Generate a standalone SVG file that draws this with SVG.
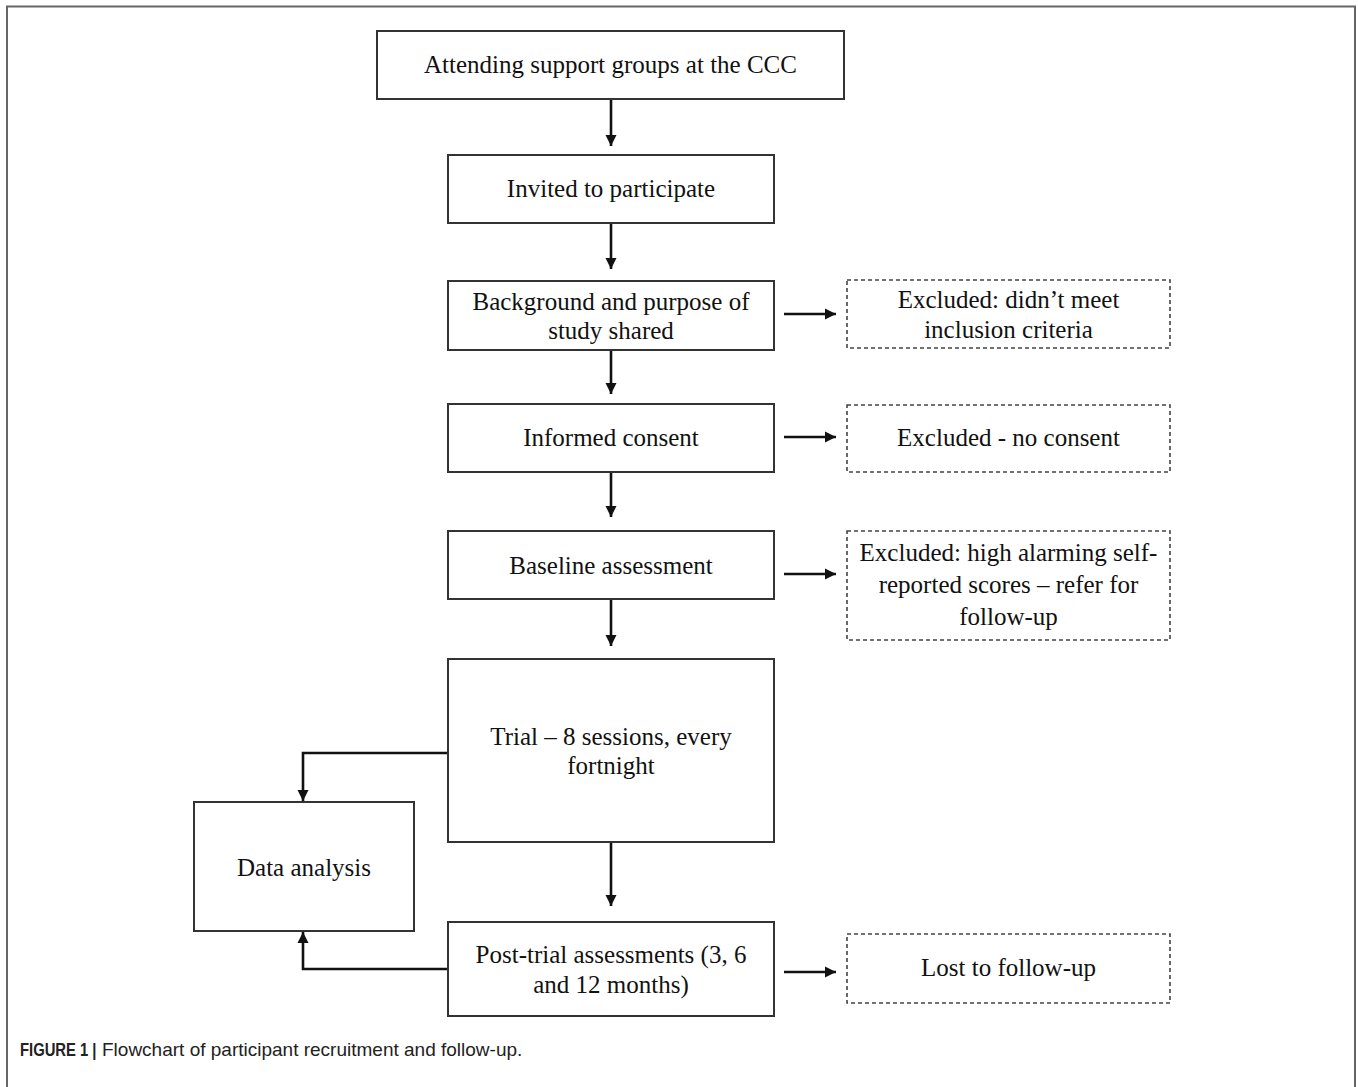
<svg xmlns="http://www.w3.org/2000/svg" width="1358" height="1087" viewBox="0 0 1358 1087">
<defs>
<style>
.box{fill:#fff;stroke:#333;stroke-width:2}
.dash{fill:#fff;stroke:#444;stroke-width:1.6;stroke-dasharray:4 3}
.t{font-family:"Liberation Serif","Times New Roman",serif;font-size:25px;fill:#111;text-anchor:middle}
.c{stroke:#111;stroke-width:2.6;fill:none}
.cap{font-family:"Liberation Sans",Arial,sans-serif;font-size:19px;fill:#222}
</style>
<marker id="ah" viewBox="0 0 10 10" refX="10" refY="5" markerWidth="4.4" markerHeight="4.4" orient="auto" markerUnits="strokeWidth">
<path d="M0,0 L10,5 L0,10 z" fill="#111"/>
</marker>
</defs>
<rect width="1358" height="1087" fill="#fff"/>
<path d="M7,1087 V6.5 H1355 V1087" fill="none" stroke="#666" stroke-width="2"/>

<g id="connectors">
<line class="c" x1="611" y1="100" x2="611" y2="146" marker-end="url(#ah)"/>
<line class="c" x1="611" y1="224" x2="611" y2="269" marker-end="url(#ah)"/>
<line class="c" x1="611" y1="351" x2="611" y2="394" marker-end="url(#ah)"/>
<line class="c" x1="611" y1="473" x2="611" y2="517" marker-end="url(#ah)"/>
<line class="c" x1="611" y1="600" x2="611" y2="646" marker-end="url(#ah)"/>
<line class="c" x1="611" y1="843" x2="611" y2="906" marker-end="url(#ah)"/>
<line class="c" x1="784" y1="314" x2="836" y2="314" marker-end="url(#ah)"/>
<line class="c" x1="784" y1="437" x2="836" y2="437" marker-end="url(#ah)"/>
<line class="c" x1="784" y1="574" x2="836" y2="574" marker-end="url(#ah)"/>
<line class="c" x1="784" y1="972" x2="836" y2="972" marker-end="url(#ah)"/>
<polyline class="c" points="448,753 303,753 303,801" marker-end="url(#ah)"/>
<polyline class="c" points="448,969 303,969 303,932" marker-end="url(#ah)"/>
</g>

<g id="n1"><rect class="box" x="377" y="31" width="467" height="68"/><text class="t" x="610.5" y="73">Attending support groups at the CCC</text></g>
<g id="n2"><rect class="box" x="448" y="155" width="326" height="68"/><text class="t" x="611" y="197">Invited to participate</text></g>
<g id="n3"><rect class="box" x="448" y="281" width="326" height="69"/><text class="t" x="611" y="310">Background and purpose of</text><text class="t" x="611" y="339">study shared</text></g>
<g id="x3"><rect class="dash" x="847" y="280" width="323" height="68"/><text class="t" x="1008.5" y="308">Excluded: didn’t meet</text><text class="t" x="1008.5" y="338">inclusion criteria</text></g>
<g id="n4"><rect class="box" x="448" y="404" width="326" height="68"/><text class="t" x="611" y="446">Informed consent</text></g>
<g id="x4"><rect class="dash" x="847" y="405" width="323" height="67"/><text class="t" x="1008.5" y="446">Excluded - no consent</text></g>
<g id="n5"><rect class="box" x="448" y="531" width="326" height="68"/><text class="t" x="611" y="574">Baseline assessment</text></g>
<g id="x5"><rect class="dash" x="847" y="531" width="323" height="109"/><text class="t" x="1008.5" y="561">Excluded: high alarming self-</text><text class="t" x="1008.5" y="593">reported scores – refer for</text><text class="t" x="1008.5" y="625">follow-up</text></g>
<g id="n6"><rect class="box" x="448" y="659" width="326" height="183"/><text class="t" x="611" y="745">Trial – 8 sessions, every</text><text class="t" x="611" y="774">fortnight</text></g>
<g id="n7"><rect class="box" x="194" y="802" width="220" height="129"/><text class="t" x="304" y="876">Data analysis</text></g>
<g id="n8"><rect class="box" x="448" y="922" width="326" height="94"/><text class="t" x="611" y="963">Post-trial assessments (3, 6</text><text class="t" x="611" y="993">and 12 months)</text></g>
<g id="x8"><rect class="dash" x="847" y="934" width="323" height="69"/><text class="t" x="1008.5" y="976">Lost to follow-up</text></g>

<g id="caption">
<text class="cap" transform="translate(20,1056) scale(0.78,1)" font-weight="bold">FIGURE 1 |</text>
<text class="cap" x="102" y="1056">Flowchart of participant recruitment and follow-up.</text>
</g>
</svg>
